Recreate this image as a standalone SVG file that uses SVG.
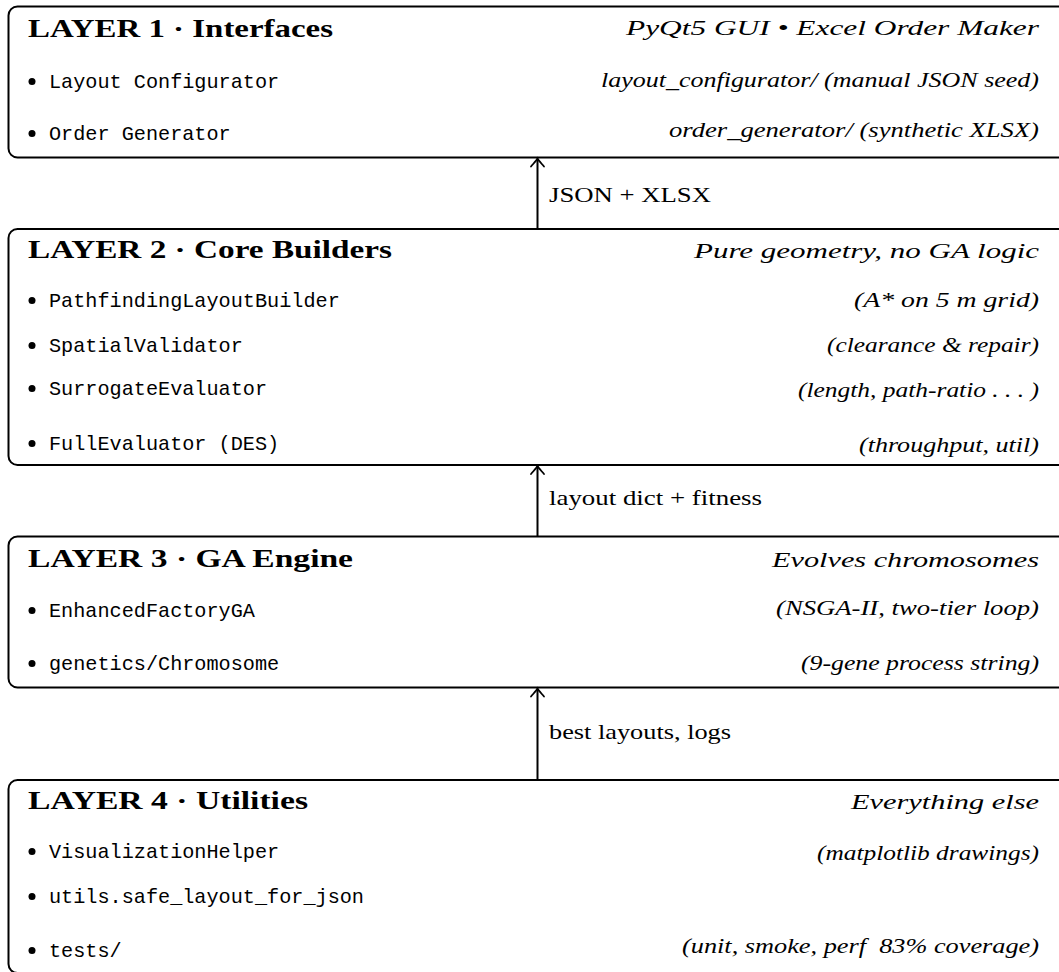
<svg xmlns="http://www.w3.org/2000/svg" width="1059" height="972" viewBox="0 0 1059 972">
  <style>
    .box { fill: #fff; stroke: #000; stroke-width: 2; }
    .title { font-family: "Liberation Serif", "DejaVu Serif", serif; font-weight: bold; font-size: 24.5px; fill: #000; }
    .sub { font-family: "Liberation Serif", "DejaVu Serif", serif; font-style: italic; font-size: 22px; fill: #000; text-anchor: end; }
    .note { font-family: "Liberation Serif", "DejaVu Serif", serif; font-style: italic; font-size: 20.5px; fill: #000; text-anchor: end; }
    .item { font-family: "Liberation Mono", "DejaVu Sans Mono", monospace; font-size: 20.2px; fill: #000; }
    .lbl { font-family: "Liberation Serif", "DejaVu Serif", serif; font-size: 22px; fill: #000; }
    .dot { fill: #000; }
    .shaft { stroke: #000; stroke-width: 2; fill: none; }
    .head { stroke: #000; stroke-width: 1.8; fill: none; stroke-linecap: round; }
  </style>

  <!-- Layer 1: interfaces -->
  <g id="layer1">
    <rect class="box" x="8.5" y="6.5" width="1070" height="151" rx="9"/>
    <text class="title" x="28" y="37" textLength="305" lengthAdjust="spacingAndGlyphs">LAYER 1 · Interfaces</text>
    <text class="sub" x="1039" y="35" textLength="413" lengthAdjust="spacingAndGlyphs">PyQt5 GUI • Excel Order Maker</text>
    <circle class="dot" cx="32" cy="81.5" r="3.5"/>
    <text class="item" x="49" y="88">Layout Configurator</text>
    <text class="note" x="1039" y="87" textLength="438" lengthAdjust="spacingAndGlyphs">layout_configurator/ (manual JSON seed)</text>
    <circle class="dot" cx="32" cy="133.5" r="3.5"/>
    <text class="item" x="49" y="140">Order Generator</text>
    <text class="note" x="1039" y="137" textLength="370" lengthAdjust="spacingAndGlyphs">order_generator/ (synthetic XLSX)</text>
  </g>

  <!-- Layer 2: core builders -->
  <g id="layer2">
    <rect class="box" x="8.5" y="229" width="1070" height="236" rx="9"/>
    <text class="title" x="28" y="258" textLength="364" lengthAdjust="spacingAndGlyphs">LAYER 2 · Core Builders</text>
    <text class="sub" x="1039" y="258" textLength="345" lengthAdjust="spacingAndGlyphs">Pure geometry, no GA logic</text>
    <circle class="dot" cx="32" cy="300.5" r="3.5"/>
    <text class="item" x="49" y="307">PathfindingLayoutBuilder</text>
    <text class="note" x="1039" y="307" textLength="185" lengthAdjust="spacingAndGlyphs">(A* on 5 m grid)</text>
    <circle class="dot" cx="32" cy="345.5" r="3.5"/>
    <text class="item" x="49" y="352">SpatialValidator</text>
    <text class="note" x="1039" y="352" textLength="212" lengthAdjust="spacingAndGlyphs">(clearance &amp; repair)</text>
    <circle class="dot" cx="32" cy="388.5" r="3.5"/>
    <text class="item" x="49" y="395">SurrogateEvaluator</text>
    <text class="note" x="1039" y="397" textLength="241" lengthAdjust="spacingAndGlyphs">(length, path-ratio . . . )</text>
    <circle class="dot" cx="32" cy="443.5" r="3.5"/>
    <text class="item" x="49" y="450">FullEvaluator (DES)</text>
    <text class="note" x="1039" y="452" textLength="180" lengthAdjust="spacingAndGlyphs">(throughput, util)</text>
  </g>

  <!-- Layer 3: GA engine -->
  <g id="layer3">
    <rect class="box" x="8.5" y="536.5" width="1070" height="151" rx="9"/>
    <text class="title" x="28" y="567" textLength="325" lengthAdjust="spacingAndGlyphs">LAYER 3 · GA Engine</text>
    <text class="sub" x="1039" y="567" textLength="267" lengthAdjust="spacingAndGlyphs">Evolves chromosomes</text>
    <circle class="dot" cx="32" cy="610.5" r="3.5"/>
    <text class="item" x="49" y="617">EnhancedFactoryGA</text>
    <text class="note" x="1039" y="615" textLength="263" lengthAdjust="spacingAndGlyphs">(NSGA-II, two-tier loop)</text>
    <circle class="dot" cx="32" cy="663.5" r="3.5"/>
    <text class="item" x="49" y="670">genetics/Chromosome</text>
    <text class="note" x="1039" y="670" textLength="238" lengthAdjust="spacingAndGlyphs">(9-gene process string)</text>
  </g>

  <!-- Layer 4: utilities -->
  <g id="layer4">
    <rect class="box" x="8.5" y="780" width="1070" height="193" rx="9"/>
    <text class="title" x="28" y="809" textLength="280" lengthAdjust="spacingAndGlyphs">LAYER 4 · Utilities</text>
    <text class="sub" x="1039" y="809" textLength="188" lengthAdjust="spacingAndGlyphs">Everything else</text>
    <circle class="dot" cx="32" cy="851.5" r="3.5"/>
    <text class="item" x="49" y="858">VisualizationHelper</text>
    <text class="note" x="1039" y="860" textLength="222" lengthAdjust="spacingAndGlyphs">(matplotlib drawings)</text>
    <circle class="dot" cx="32" cy="896.5" r="3.5"/>
    <text class="item" x="49" y="903">utils.safe_layout_for_json</text>
    <circle class="dot" cx="32" cy="950.5" r="3.5"/>
    <text class="item" x="49" y="957">tests/</text>
    <text class="note" x="1039" y="953" textLength="357" lengthAdjust="spacingAndGlyphs" xml:space="preserve">(unit, smoke, perf  83% coverage)</text>
  </g>

  <!-- Upward data-flow arrows between layers -->
  <g id="connectors">
    <line class="shaft" x1="537.5" y1="229" x2="537.5" y2="159"/>
    <path class="head" d="M531,166.5 C533.5,163.5 536.5,160.5 537.5,158.5 C538.5,160.5 541.5,163.5 544,166.5"/>
    <text class="lbl" x="549" y="202" textLength="162" lengthAdjust="spacingAndGlyphs">JSON + XLSX</text>

    <line class="shaft" x1="537.5" y1="536.5" x2="537.5" y2="466.5"/>
    <path class="head" d="M531,474 C533.5,471 536.5,468 537.5,466 C538.5,468 541.5,471 544,474"/>
    <text class="lbl" x="549" y="505" textLength="213" lengthAdjust="spacingAndGlyphs">layout dict + fitness</text>

    <line class="shaft" x1="537.5" y1="780" x2="537.5" y2="689"/>
    <path class="head" d="M531,696.5 C533.5,693.5 536.5,690.5 537.5,688.5 C538.5,690.5 541.5,693.5 544,696.5"/>
    <text class="lbl" x="549" y="739" textLength="182" lengthAdjust="spacingAndGlyphs">best layouts, logs</text>
  </g>
</svg>
